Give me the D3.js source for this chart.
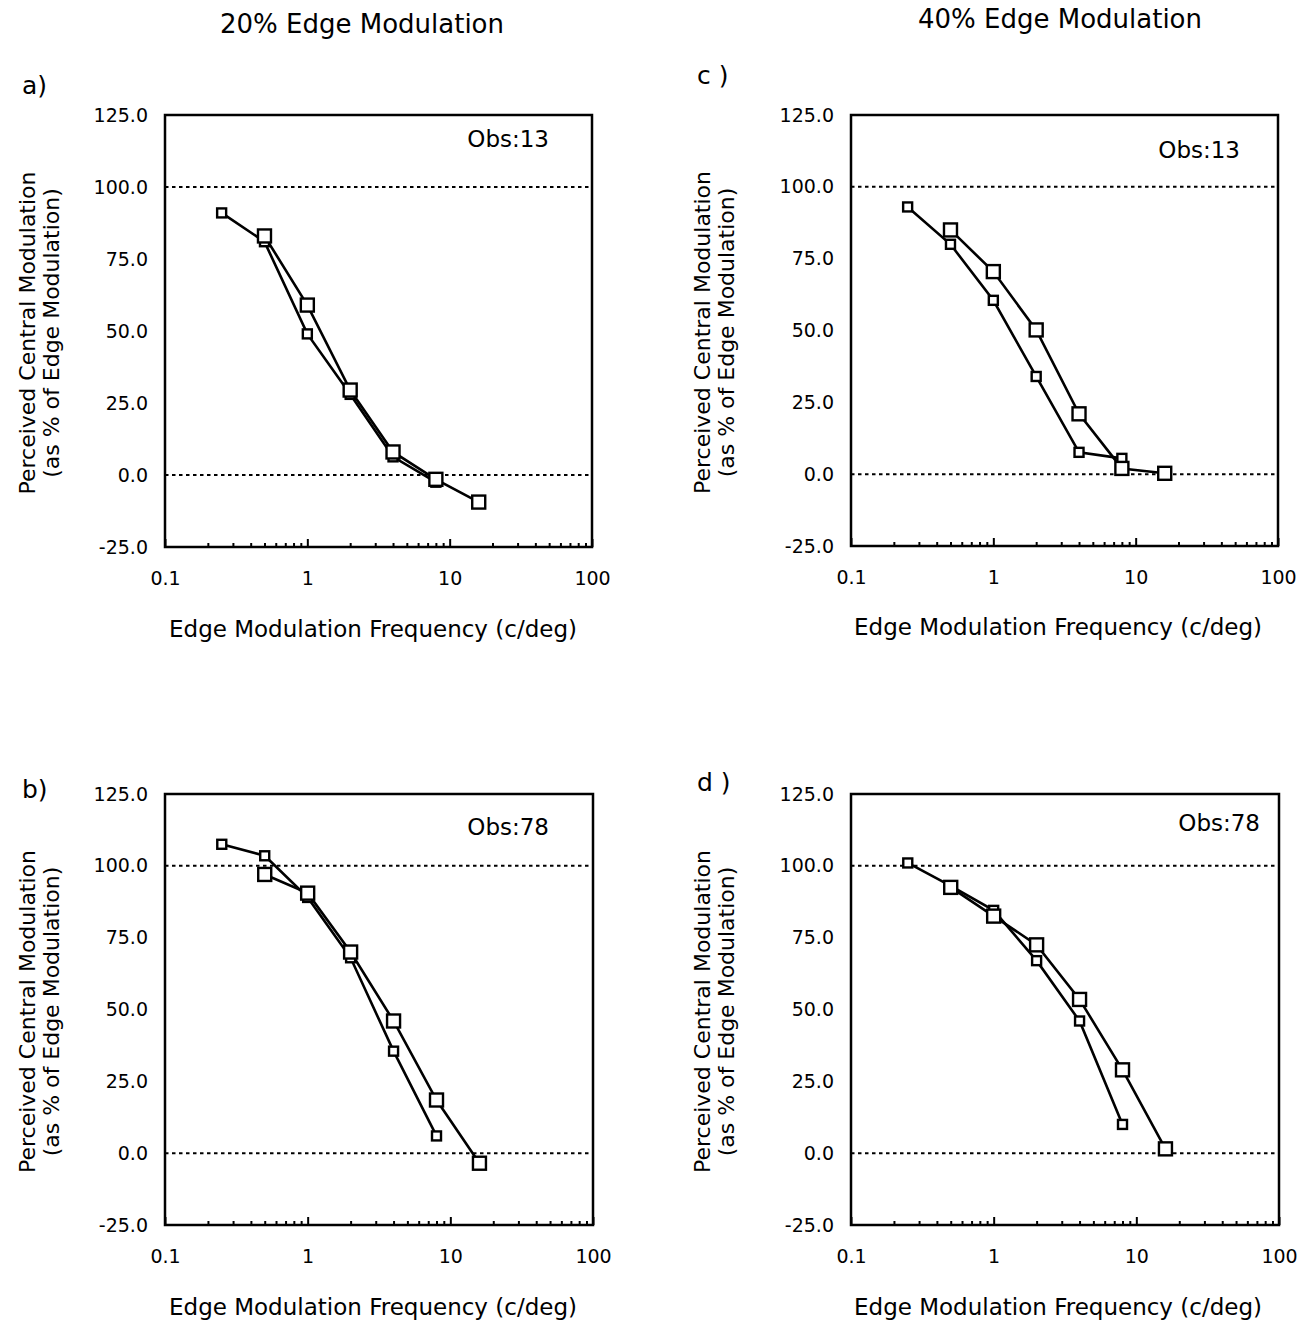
<!DOCTYPE html>
<html><head><meta charset="utf-8">
<script src="https://cdn.jsdelivr.net/npm/d3@7"></script>
<style>body{margin:0;background:#fff}svg{display:block}text{font-family:"DejaVu Sans",sans-serif;fill:#000}</style>
</head><body>
<svg id="c" width="1311" height="1323"></svg>
<script>
// ---- data ----
const freqSmall = [0.25, 0.5, 1, 2, 4, 8];
const freqLarge = [0.5, 1, 2, 4, 8, 16];
const aSmall = [91, 81, 49, 28, 6.3, -2.5];
const aLarge = [83, 59, 29.5, 8, -1.5, -9.4];
const bSmall = [107.5, 103.5, 89, 68, 35.5, 6];
const bLarge = [97, 90.5, 70, 46, 18.5, -3.5];
const cSmall = [93, 80, 60.5, 34, 7.6, 5.5];
const cLarge = [85, 70.5, 50.2, 21, 2, 0.3];
const dSmall = [101, 93, 84.5, 67, 46, 10];
const dLarge = [92.5, 82.5, 72.5, 53.5, 29, 1.5];
const yTicks = [-25, 0, 25, 50, 75, 100, 125];
const xLabelTicks = [0.1, 1, 10, 100];
const refLines = [0, 100];
const columnTitles = ["20% Edge Modulation", "40% Edge Modulation"];
const panelLabels = ["a)", "b)", "c )", "d )"];
const obsLabels = ["Obs:13", "Obs:78", "Obs:13", "Obs:78"];
const xTitle = "Edge Modulation Frequency (c/deg)";
const yTitle1 = "Perceived Central Modulation";
const yTitle2 = "(as % of Edge Modulation)";

const svg = d3.select("#c");
const FONT = "DejaVu Sans, sans-serif";

const panels = [
  {label: panelLabels[0], obs: obsLabels[0], small: aSmall, large: aLarge, x0: 165, x1: 592, y0: 115, y1: 547, lx: 22, ly: 94, ox: 549, oy: 147, labX: 373, labY: 637},
  {label: panelLabels[1], obs: obsLabels[1], small: bSmall, large: bLarge, x0: 165, x1: 593, y0: 794, y1: 1225, lx: 22, ly: 798, ox: 549, oy: 835, labX: 373, labY: 1315},
  {label: panelLabels[2], obs: obsLabels[2], small: cSmall, large: cLarge, x0: 851, x1: 1278, y0: 115, y1: 546, lx: 697, ly: 84, ox: 1240, oy: 158, labX: 1058, labY: 635},
  {label: panelLabels[3], obs: obsLabels[3], small: dSmall, large: dLarge, x0: 851, x1: 1279, y0: 794, y1: 1225, lx: 697, ly: 791, ox: 1260, oy: 831, labX: 1058, labY: 1315}
];

svg.append("text").attr("x", 362).attr("y", 33).attr("text-anchor", "middle").attr("font-size", 26).text(columnTitles[0]);
svg.append("text").attr("x", 1060).attr("y", 28).attr("text-anchor", "middle").attr("font-size", 26).text(columnTitles[1]);

panels.forEach(p => {
  const x = d3.scaleLog().domain([0.1, 100]).range([p.x0, p.x1]);
  const y = d3.scaleLinear().domain([-25, 125]).range([p.y1, p.y0]);
  const g = svg.append("g");

  refLines.forEach(v => {
    g.append("line").attr("x1", p.x0).attr("x2", p.x1).attr("y1", y(v)).attr("y2", y(v))
      .attr("stroke", "#000").attr("stroke-width", 2).attr("stroke-dasharray", "3.5,3.5");
  });

  g.append("rect").attr("x", p.x0).attr("y", p.y0).attr("width", p.x1 - p.x0).attr("height", p.y1 - p.y0)
    .attr("fill", "none").attr("stroke", "#000").attr("stroke-width", 2.5);

  const minor = [];
  [0.1, 1, 10].forEach(d => { for (let k = 2; k <= 9; k++) minor.push(d * k); });
  const gm = g.append("g").attr("transform", `translate(0,${p.y1})`)
    .call(d3.axisBottom(x).tickValues(minor).tickSize(-4).tickFormat(""));
  gm.select(".domain").remove();
  gm.selectAll("line").attr("stroke-width", 2);
  const gM = g.append("g").attr("transform", `translate(0,${p.y1})`)
    .call(d3.axisBottom(x).tickValues(xLabelTicks).tickSize(-8).tickPadding(25).tickFormat(d => String(d)));
  gM.select(".domain").remove();
  gM.selectAll("line").attr("stroke-width", 2);
  gM.selectAll("text").attr("font-size", 19).attr("font-family", FONT).attr("fill", "#000");

  const gy = g.append("g").attr("transform", `translate(${p.x0},0)`)
    .call(d3.axisLeft(y).tickValues(yTicks).tickSize(0).tickPadding(17).tickFormat(d => d.toFixed(1)));
  gy.select(".domain").remove();
  gy.selectAll("text").attr("font-size", 19).attr("font-family", FONT).attr("fill", "#000");

  const line = d3.line().x(d => x(d[0])).y(d => y(d[1]));
  const sData = freqSmall.map((f, i) => [f, p.small[i]]);
  const lData = freqLarge.map((f, i) => [f, p.large[i]]);
  g.append("path").attr("d", line(sData)).attr("fill", "none").attr("stroke", "#000").attr("stroke-width", 2.6);
  g.append("path").attr("d", line(lData)).attr("fill", "none").attr("stroke", "#000").attr("stroke-width", 2.6);
  g.selectAll(".sq").data(sData).join("rect")
    .attr("x", d => x(d[0]) - 4.5).attr("y", d => y(d[1]) - 4.5).attr("width", 9).attr("height", 9)
    .attr("fill", "#fff").attr("stroke", "#000").attr("stroke-width", 2.4);
  g.selectAll(".lq").data(lData).join("rect")
    .attr("x", d => x(d[0]) - 6.5).attr("y", d => y(d[1]) - 6.5).attr("width", 13).attr("height", 13)
    .attr("fill", "#fff").attr("stroke", "#000").attr("stroke-width", 2.4);

  g.append("text").attr("x", p.lx).attr("y", p.ly).attr("font-size", 25).text(p.label);
  g.append("text").attr("x", p.ox).attr("y", p.oy).attr("text-anchor", "end").attr("font-size", 23).text(p.obs);
  g.append("text").attr("x", p.labX).attr("y", p.labY).attr("text-anchor", "middle").attr("font-size", 23).text(xTitle);
  const cy = (p.y0 + p.y1) / 2 + 2;
  g.append("text").attr("transform", `translate(${p.lx + 13},${cy}) rotate(-90)`).attr("text-anchor", "middle").attr("font-size", 22).text(yTitle1);
  g.append("text").attr("transform", `translate(${p.lx + 37},${cy}) rotate(-90)`).attr("text-anchor", "middle").attr("font-size", 22).text(yTitle2);
});
</script>
</body></html>
